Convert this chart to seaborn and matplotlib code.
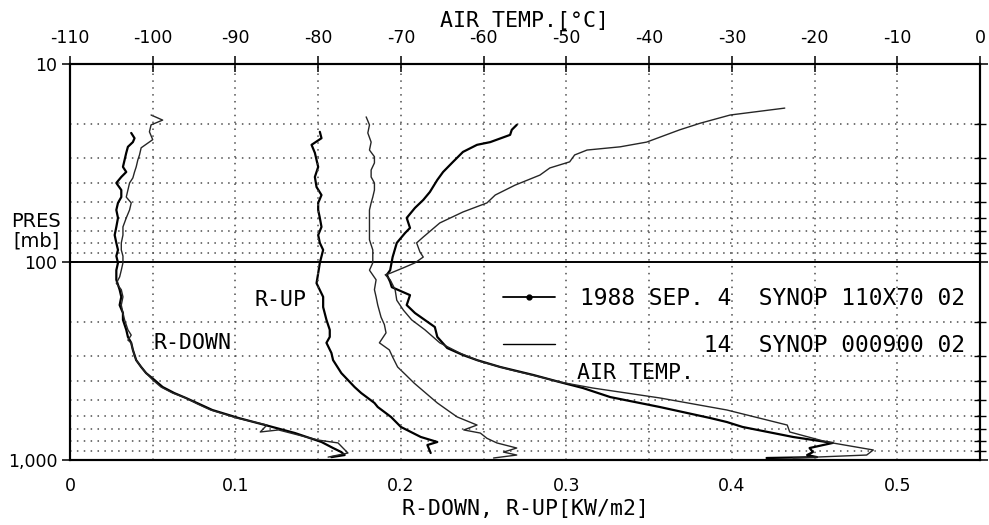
import matplotlib
matplotlib.use("Agg")
import matplotlib.pyplot as plt
import seaborn as sns
from matplotlib.lines import Line2D
from matplotlib.ticker import LogLocator, NullFormatter, FixedLocator

# ---------------- data ----------------
# R-DOWN, 1988 SEP 4 (pressure mb, kW/m2)
rdown4_p = [22.3, 23.7, 24.8, 26.2, 28.1, 30.5, 33.1, 35.1, 37.2, 39.9, 43.3, 47.0, 50.3, 54.6, 59.9,
            66.5, 73.1, 80.1, 86.9, 93.3, 101, 110, 123, 138, 150, 165, 181, 196, 220, 239,
            256, 278, 313, 339, 364, 394, 428, 459, 486, 521, 559, 614, 666, 731, 811,
            870, 912, 944, 967]
rdown4_v = [0.037, 0.039, 0.038, 0.035, 0.034, 0.033, 0.032, 0.034, 0.031, 0.028, 0.031, 0.031, 0.029, 0.028, 0.029,
            0.028, 0.027, 0.028, 0.029, 0.028, 0.029, 0.028, 0.028, 0.030, 0.031, 0.030, 0.032, 0.032, 0.034, 0.035,
            0.037, 0.038, 0.040, 0.043, 0.046, 0.051, 0.056, 0.063, 0.070, 0.078, 0.086, 0.102, 0.118, 0.136, 0.152,
            0.159, 0.164, 0.166, 0.158]
# R-DOWN, SEP 14
rdown14_p = [18.1, 19.2, 20.3, 22.0, 24.1, 26.5, 28.8, 30.5, 33.1, 35.1, 37.6, 39.9, 43.3, 47.0, 50.3,
             54.6, 59.9, 66.5, 73.1, 80.1, 86.9, 93.3, 101, 110, 119, 128, 138, 150, 165, 181,
             196, 220, 234, 248, 256, 278, 313, 339, 364, 394, 428, 459, 486, 521, 559,
             614, 666, 722, 705, 748, 793, 820, 870, 922, 967]
rdown14_v = [0.049, 0.056, 0.049, 0.048, 0.050, 0.043, 0.042, 0.041, 0.040, 0.039, 0.038, 0.036, 0.035, 0.034, 0.037,
             0.036, 0.034, 0.032, 0.032, 0.031, 0.031, 0.032, 0.032, 0.031, 0.030, 0.028, 0.031, 0.032, 0.031, 0.032,
             0.033, 0.035, 0.037, 0.035, 0.037, 0.038, 0.040, 0.043, 0.046, 0.050, 0.055, 0.062, 0.070, 0.077, 0.085,
             0.101, 0.119, 0.115, 0.126, 0.138, 0.150, 0.162, 0.165, 0.168, 0.156]
# R-UP, SEP 4
rup4_p = [22.0, 23.7, 25.6, 28.1, 33.1, 37.2, 41.8, 45.9, 50.3, 54.6, 59.9, 66.5, 73.1, 80.1, 86.9,
          101, 114, 128, 150, 169, 196, 220, 239, 256, 288, 313, 364, 428, 459, 515,
          540, 606, 681, 765, 811, 840, 922]
rup4_v = [0.151, 0.152, 0.146, 0.148, 0.150, 0.148, 0.149, 0.152, 0.150, 0.150, 0.151, 0.152, 0.150, 0.151, 0.153,
          0.151, 0.150, 0.149, 0.153, 0.153, 0.155, 0.157, 0.157, 0.155, 0.158, 0.159, 0.164, 0.172, 0.176, 0.184,
          0.186, 0.194, 0.200, 0.212, 0.222, 0.216, 0.218]
# R-UP, SEP 14
rup14_p = [18.5, 20.3, 22.3, 24.8, 27.2, 29.4, 31.6, 34.3, 37.2, 39.9, 43.3, 47.0, 50.3, 54.6, 59.3,
           67.3, 77.2, 86.9, 101, 110, 123, 138, 150, 165, 190, 207, 228, 256, 278, 302,
           339, 372, 409, 459, 515, 559, 606, 666, 705, 731, 777, 820, 870, 912, 944, 977]
rup14_v = [0.179, 0.181, 0.180, 0.182, 0.181, 0.184, 0.184, 0.182, 0.182, 0.184, 0.184, 0.183, 0.182, 0.181, 0.181,
           0.181, 0.181, 0.183, 0.183, 0.181, 0.185, 0.184, 0.185, 0.186, 0.188, 0.190, 0.191, 0.187, 0.193, 0.195,
           0.198, 0.203, 0.208, 0.215, 0.222, 0.228, 0.234, 0.246, 0.238, 0.248, 0.252, 0.258, 0.270, 0.262, 0.270, 0.256]
# AIR TEMP, SEP 4 (deg C)
temp4_p = [20.3, 21.5, 22.8, 24.8, 25.6, 27.8, 31.2, 35.1, 38.5, 44.3, 48.6, 53.3, 59.9, 67.3, 71.4,
           80.1, 94.4, 110, 116, 126, 134, 147, 165, 181, 213, 239, 272, 295, 313, 339,
           372, 404, 433, 481, 540, 614, 643, 681, 765, 820, 870, 912, 944, 967, 977]
temp4_v = [-56.0, -56.6, -56.8, -59.2, -60.8, -62.5, -63.7, -64.9, -65.6, -66.5, -67.3, -68.3, -69.3, -68.9, -69.5,
           -70.5, -71.0, -71.3, -71.7, -71.3, -71.1, -68.9, -69.3, -68.3, -65.9, -65.6, -64.4, -62.5, -60.8, -58.0,
           -54.0, -50.8, -48.0, -44.7, -38.7, -32.6, -30.6, -28.7, -22.6, -17.8, -20.6, -20.2, -20.9, -19.7, -25.8]
# AIR TEMP, SEP 14
temp14_p = [16.7, 18.1, 19.9, 21.5, 24.8, 26.2, 27.2, 28.8, 31.2, 33.5, 36.4, 40.9, 45.9, 50.3, 55.9,
            63.5, 74.8, 80.1, 89.0, 94.4, 101, 107, 114, 116, 123, 138, 156, 175, 196, 220,
            256, 288, 318, 350, 386, 404, 433, 486, 559, 666, 722, 811, 890, 944, 977]
temp14_v = [-23.6, -30.2, -33.8, -36.3, -40.3, -43.5, -47.5, -49.0, -49.6, -52.0, -53.2, -56.2, -58.6, -59.6, -62.5,
            -65.3, -67.3, -68.1, -67.7, -67.3, -68.3, -69.7, -71.3, -71.9, -71.3, -70.7, -70.5, -69.7, -68.7, -67.1,
            -65.3, -62.9, -60.4, -56.8, -52.6, -50.8, -46.8, -38.7, -30.6, -23.3, -23.0, -18.5, -12.9, -13.7, -22.6]

r_ticks = [0, 0.1, 0.2, 0.3, 0.4, 0.5]
r_tick_labels = ["0", "0.1", "0.2", "0.3", "0.4", "0.5"]
t_ticks = [-110, -100, -90, -80, -70, -60, -50, -40, -30, -20, -10, 0]
p_ticks = [10, 100, 1000]
p_tick_labels = ["10", "100", "1,000"]
legend_labels = ["1988 SEP. 4  SYNOP 110X70 02", "         14  SYNOP 000900 02"]

# ---------------- style ----------------
sns.set_theme(style="white")
SANS = ["DejaVu Sans"]
MONO = ["DejaVu Sans Mono", "DejaVu Sans"]
plt.rcParams["font.family"] = SANS
plt.rcParams["text.color"] = "black"
plt.rcParams["legend.labelcolor"] = "black"

fig = plt.figure(figsize=(9.89, 5.25), dpi=100)
ax = fig.add_axes([70 / 989, 1 - 460 / 525, 910 / 989, 396 / 525])
ax.set_yscale("log")
ax.set_ylim(1000, 10)
ax.set_xlim(0, 0.55)

axT = ax.twiny()
axT.set_xlim(-110, 0)

# grid
dot = (0, (1, 3.5))
ax.yaxis.set_major_locator(FixedLocator(p_ticks))
ax.yaxis.set_minor_locator(LogLocator(base=10, subs=[2, 3, 4, 5, 6, 7, 8, 9]))
ax.yaxis.set_minor_formatter(NullFormatter())
ax.grid(False)
axT.grid(False)
ax.yaxis.grid(True, which="minor", linestyle=dot, color="0.3", lw=1.1)
axT.set_xticks(t_ticks)
axT.xaxis.grid(True, linestyle=dot, color="0.3", lw=1.1)
ax.axhline(100, color="black", lw=1.4)

# data lines
lw4, lw14 = 1.6, 1.0
sns.lineplot(x=rdown4_v, y=rdown4_p, sort=False, estimator=None, color="black", lw=lw4, ax=ax)
sns.lineplot(x=rdown14_v, y=rdown14_p, sort=False, estimator=None, color="0.15", lw=lw14, ax=ax)
sns.lineplot(x=rup4_v, y=rup4_p, sort=False, estimator=None, color="black", lw=lw4, ax=ax)
sns.lineplot(x=rup14_v, y=rup14_p, sort=False, estimator=None, color="0.15", lw=lw14, ax=ax)
sns.lineplot(x=temp4_v, y=temp4_p, sort=False, estimator=None, color="black", lw=lw4, ax=axT)
sns.lineplot(x=temp14_v, y=temp14_p, sort=False, estimator=None, color="0.15", lw=lw14, ax=axT)

ax.set_xlim(0, 0.55)
axT.set_xlim(-110, 0)
ax.set_ylim(1000, 10)

# ticks
ax.set_xticks(r_ticks, labels=r_tick_labels)
ax.set_yticks(p_ticks, labels=p_tick_labels)
ax.tick_params(axis="x", which="both", length=0, pad=12, labelsize=12.5, colors="black")
ax.tick_params(axis="y", which="major", direction="inout", length=12, width=1.1,
               left=True, right=True, labelsize=12.5, pad=3, colors="black")
ax.tick_params(axis="y", which="minor", direction="inout", length=9, width=1.0,
               left=False, right=True, colors="black")
axT.set_xticklabels([str(t) for t in t_ticks])
axT.tick_params(axis="x", direction="inout", length=12, width=1.1, labelsize=12.5, pad=6, colors="black")

for a in (ax, axT):
    for s in a.spines.values():
        s.set_color("black")
        s.set_linewidth(1.5)

# axis labels
ax.set_xlabel("R-DOWN, R-UP[KW/m2]", fontsize=15.5, family=MONO, labelpad=3, color="black")
axT.set_xlabel("AIR TEMP.[°C]", fontsize=15.5, family=MONO, labelpad=2, color="black")
ax.set_ylabel("PRES\n[mb]", rotation=0, fontsize=14, family=SANS, color="black",
              ha="center", va="center", linespacing=1.05)
ax.yaxis.set_label_coords(-0.037, 0.578)

# curve annotations
ax.text(0.074, 256, "R-DOWN", fontsize=15.5, family=MONO, ha="center", va="center", color="black")
ax.text(0.127, 156, "R-UP", fontsize=15.5, family=MONO, ha="center", va="center", color="black")
ax.text(0.342, 364, "AIR TEMP.", fontsize=15.5, family=MONO, ha="center", va="center", color="black")

# legend
handles = [Line2D([0], [0], color="black", lw=1.3, marker="o", ms=3.5),
           Line2D([0], [0], color="black", lw=1.0)]
leg = axT.legend(handles, legend_labels, loc="upper left", bbox_to_anchor=(0.476, 0.436),
                 frameon=False, numpoints=1, handlelength=2.27, handletextpad=1.09,
                 labelspacing=1.05, borderpad=0, borderaxespad=0, labelcolor="black",
                 prop={"family": MONO, "size": 16.5})

fig.savefig("out.png", dpi=100)
